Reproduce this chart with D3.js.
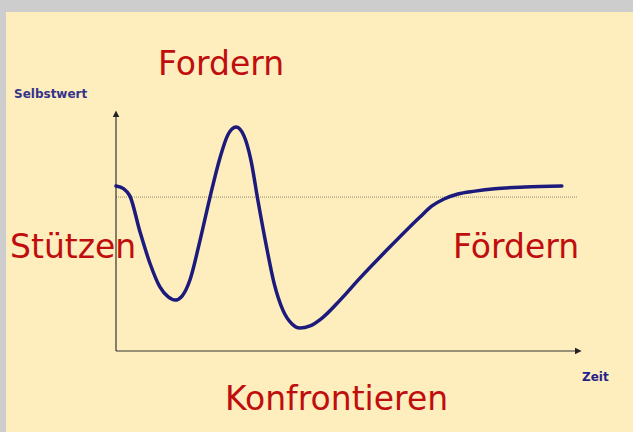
<!DOCTYPE html>
<html lang="de">
<head>
<meta charset="UTF-8">
<title>Selbstwert</title>
<script src="https://d3js.org/d3.v7.min.js"></script>
<style>
  body { margin: 0; background: #cdcdcd; }
  svg { display: block; }
</style>
</head>
<body>
<script>
// curve: time (0..100) and self-worth (0..100)
const zeit = [0, 1.7, 3.0, 5.2, 7.4, 9.5, 11.3, 12.8, 14.3, 16.0, 18.2, 20.3, 22.5, 24.2, 26.0,
              27.7, 29.2, 30.7, 32.5, 34.2, 36.1, 38.1, 39.8, 42.0, 44.6, 48.5, 52.8, 58.2,
              65.8, 68.4, 71.0, 74.0, 77.7, 82.0, 88.5, 96.5];
const selbstwert = [69.0, 67.8, 64.9, 49.8, 36.4, 26.8, 22.6, 21.3, 23.0, 29.7, 46.4, 64.0, 80.8, 90.4, 93.7,
                    90.0, 79.9, 63.2, 44.4, 28.5, 17.2, 11.3, 9.6, 10.5, 13.8, 21.3, 30.5, 41.4,
                    56.1, 60.7, 63.6, 65.7, 66.9, 67.9, 68.6, 69.0];
const referenz = 64.4;

const labels = ["Fordern", "Stützen", "Fördern", "Konfrontieren"];
const achsen = ["Selbstwert", "Zeit"];

const W = 633, H = 432;
const svg = d3.select("body").append("svg")
    .attr("width", W)
    .attr("height", H);

// cream panel
svg.append("rect")
    .attr("x", 6).attr("y", 12)
    .attr("width", W - 6).attr("height", H - 12)
    .attr("fill", "#feeebd");

const x = d3.scaleLinear().domain([0, 100]).range([116, 578]);
const y = d3.scaleLinear().domain([0, 100]).range([351, 112]);

const defs = svg.append("defs");
defs.append("marker")
    .attr("id", "arrow")
    .attr("viewBox", "0 0 10 10")
    .attr("refX", 2).attr("refY", 5)
    .attr("markerWidth", 7).attr("markerHeight", 7)
    .attr("markerUnits", "userSpaceOnUse")
    .attr("orient", "auto")
  .append("path")
    .attr("d", "M0,0L10,5L0,10z")
    .attr("fill", "#222");

// reference line
svg.append("line")
    .attr("x1", x(0)).attr("x2", x(100))
    .attr("y1", y(referenz)).attr("y2", y(referenz))
    .attr("stroke", "#8f8a70")
    .attr("stroke-width", 1)
    .attr("stroke-dasharray", "1,1");

// axes
svg.append("line")
    .attr("x1", x(0)).attr("y1", y(0))
    .attr("x2", x(0)).attr("y2", y(100) + 4)
    .attr("stroke", "#333").attr("stroke-width", 1.2)
    .attr("marker-end", "url(#arrow)");

svg.append("line")
    .attr("x1", x(0)).attr("y1", y(0))
    .attr("x2", x(100) - 2).attr("y2", y(0))
    .attr("stroke", "#333").attr("stroke-width", 1.2)
    .attr("marker-end", "url(#arrow)");

// the curve
const pts = zeit.map((t, i) => [t, selbstwert[i]]);
const line = d3.line()
    .x(d => x(d[0]))
    .y(d => y(d[1]))
    .curve(d3.curveMonotoneX);

svg.append("path")
    .datum(pts)
    .attr("d", line)
    .attr("fill", "none")
    .attr("stroke", "#1c1a7c")
    .attr("stroke-width", 3.5)
    .attr("stroke-linecap", "round");

// axis titles
svg.append("text")
    .attr("x", 14).attr("y", 98)
    .attr("font-family", "DejaVu Sans")
    .attr("font-weight", "bold")
    .attr("font-size", 12)
    .attr("fill", "#35338a")
    .text(achsen[0]);

svg.append("text")
    .attr("x", 582).attr("y", 381)
    .attr("font-family", "DejaVu Sans")
    .attr("font-weight", "bold")
    .attr("font-size", 12)
    .attr("fill", "#25238a")
    .text(achsen[1]);

// big red labels
const pos = [[158, 75], [10, 258], [453, 258], [225, 410]];
svg.selectAll(".lab")
    .data(labels)
    .enter()
    .append("text")
    .attr("class", "lab")
    .attr("x", (d, i) => pos[i][0])
    .attr("y", (d, i) => pos[i][1])
    .attr("font-family", "DejaVu Sans")
    .attr("font-size", 33)
    .attr("fill", "#c00d0d")
    .text(d => d);
</script>
</body>
</html>
